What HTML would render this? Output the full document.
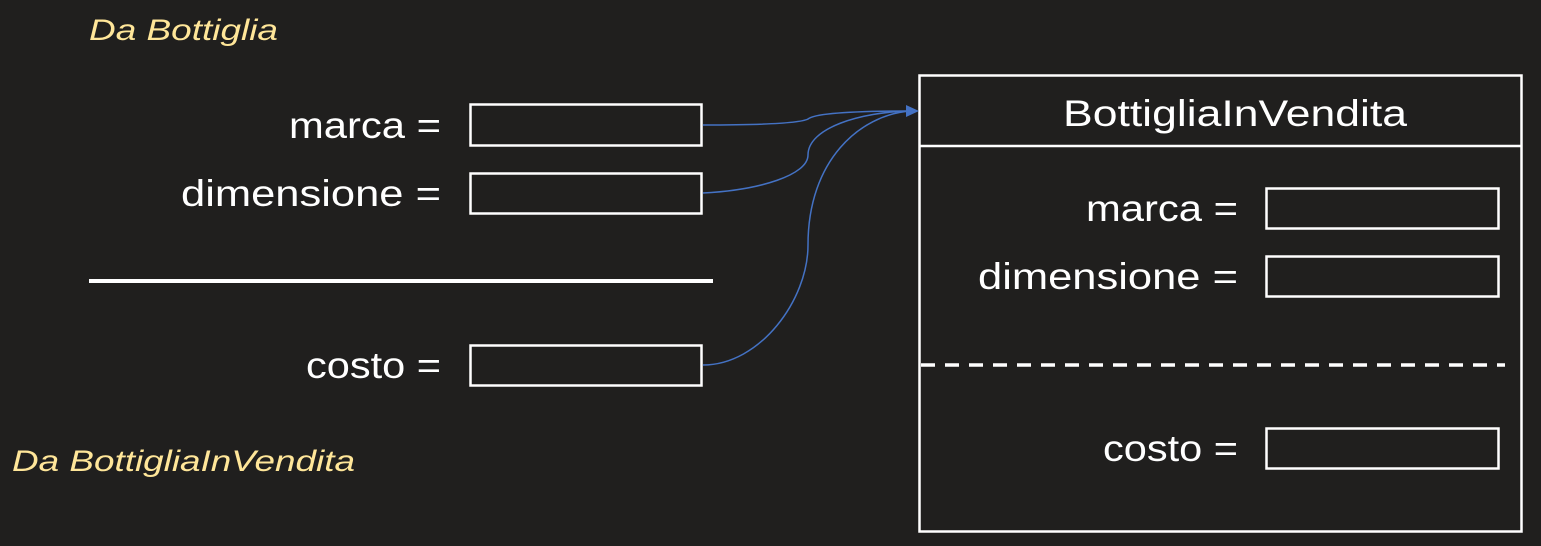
<!DOCTYPE html>
<html><head><meta charset="utf-8"><style>
html,body{margin:0;padding:0;background:#201f1e;}
svg{display:block;}
text{font-family:"Liberation Sans",sans-serif;}
</style></head><body>
<svg width="1541" height="546" viewBox="0 0 1541 546" xmlns="http://www.w3.org/2000/svg">
<rect width="1541" height="546" fill="#201f1e"/>
<g font-style="italic" fill="#ffe699" font-size="30">
<text x="89" y="40" textLength="189" lengthAdjust="spacingAndGlyphs">Da Bottiglia</text>
<text x="12" y="471" textLength="343" lengthAdjust="spacingAndGlyphs">Da BottigliaInVendita</text>
</g>
<g fill="#fff" font-size="37">
<text x="289" y="138" textLength="152" lengthAdjust="spacingAndGlyphs">marca =</text>
<text x="181" y="206" textLength="260" lengthAdjust="spacingAndGlyphs">dimensione =</text>
<text x="306" y="378" textLength="135" lengthAdjust="spacingAndGlyphs">costo =</text>
<text x="1086" y="221" textLength="152" lengthAdjust="spacingAndGlyphs">marca =</text>
<text x="978" y="289" textLength="260" lengthAdjust="spacingAndGlyphs">dimensione =</text>
<text x="1103" y="461" textLength="135" lengthAdjust="spacingAndGlyphs">costo =</text>
<text x="1063" y="126" textLength="344" lengthAdjust="spacingAndGlyphs">BottigliaInVendita</text>
</g>
<g fill="none" stroke="#fff" stroke-width="2.5">
<rect x="470.5" y="104.5" width="231" height="41"/>
<rect x="470.5" y="173.5" width="231" height="40"/>
<rect x="470.5" y="345.5" width="231" height="40"/>
<rect x="1266.5" y="188.5" width="232" height="40"/>
<rect x="1266.5" y="256.5" width="232" height="40"/>
<rect x="1266.5" y="428.5" width="232" height="40"/>
<rect x="919.5" y="75.5" width="602" height="456"/>
<line x1="919" y1="146" x2="1522" y2="146"/>
</g>
<line x1="89" y1="281" x2="713" y2="281" stroke="#fff" stroke-width="4"/>
<line x1="921" y1="365" x2="1505" y2="365" stroke="#fff" stroke-width="3.5" stroke-dasharray="14,10"/>
<g fill="none" stroke="#4472c4" stroke-width="1.5">
<path d="M703,125 C760,125 800,123 808,119 C815,113 860,111 910,111"/>
<path d="M703,193 C760,190 808,175 808,155 C808,128 860,112 910,111"/>
<path d="M703,365 C760,365 808,300 808,245 C808,160 860,115 910,111"/>
</g>
<polygon points="906,105 919,111 906,117" fill="#4472c4"/>
</svg>
</body></html>
